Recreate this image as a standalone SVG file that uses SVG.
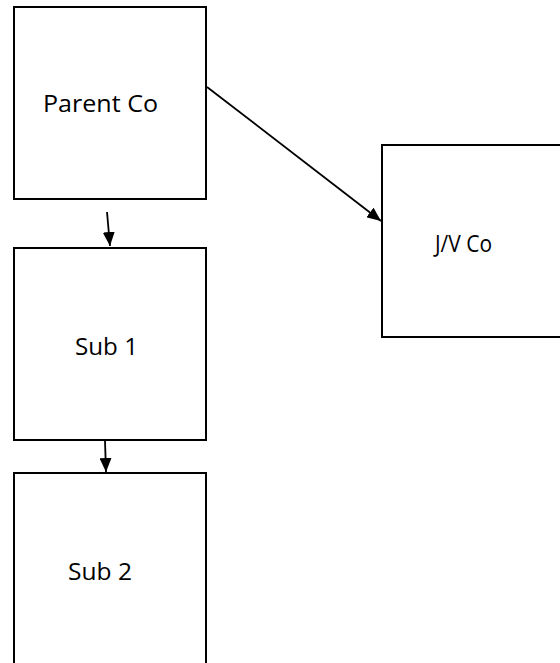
<svg xmlns="http://www.w3.org/2000/svg" width="560" height="663" viewBox="0 0 560 663">
  <style>
    .box { fill: #ffffff; stroke: #000000; stroke-width: 2; }
    .lbl { font-family: "Open Sans", "Liberation Sans", sans-serif; font-size: 24px; fill: #000000; }
    .conn { stroke: #000000; stroke-width: 1.8; fill: none; marker-end: url(#arrow); }
  </style>
  <defs>
    <marker id="arrow" viewBox="0 0 14 12" refX="14" refY="6" markerWidth="14" markerHeight="12" markerUnits="userSpaceOnUse" orient="auto">
      <path d="M0,0 L14,6 L0,12 Z" fill="#000000"/>
    </marker>
  </defs>
  <rect width="560" height="663" fill="#ffffff"/>
  <g id="parent-co">
    <rect class="box" x="14" y="7" width="192" height="192"/>
    <text class="lbl" x="43" y="112" textLength="115" lengthAdjust="spacingAndGlyphs">Parent Co</text>
  </g>
  <g id="sub-1">
    <rect class="box" x="14" y="248" width="192" height="192"/>
    <text class="lbl" x="75" y="355" textLength="63" lengthAdjust="spacingAndGlyphs">Sub 1</text>
  </g>
  <g id="sub-2">
    <rect class="box" x="14" y="473" width="192" height="220"/>
    <text class="lbl" x="68" y="580" textLength="64" lengthAdjust="spacingAndGlyphs">Sub 2</text>
  </g>
  <g id="jv-co">
    <rect class="box" x="382" y="145" width="220" height="192"/>
    <text class="lbl" x="435" y="252" textLength="57" lengthAdjust="spacingAndGlyphs">J/V Co</text>
  </g>
  <g id="connectors">
    <line class="conn" x1="107" y1="212" x2="110" y2="246"/>
    <line class="conn" x1="105" y1="441" x2="106" y2="472"/>
    <line class="conn" x1="207" y1="87" x2="381" y2="221"/>
  </g>
</svg>
